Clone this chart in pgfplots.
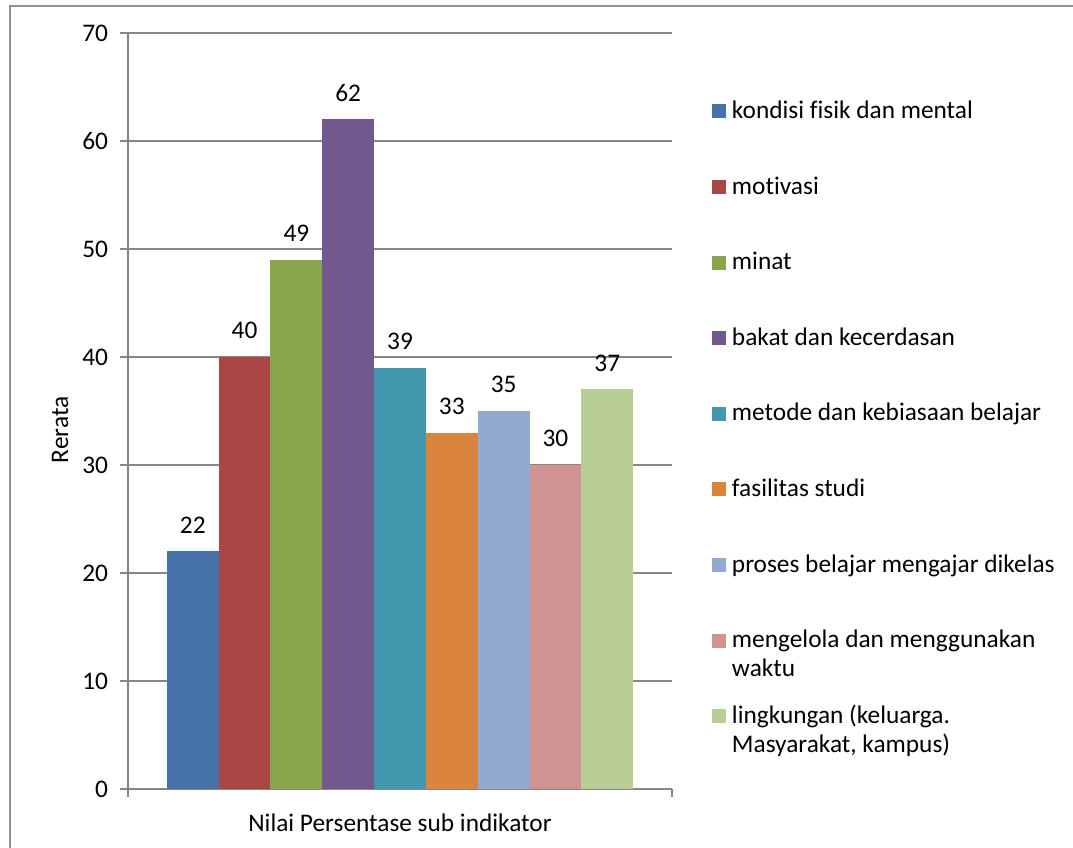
\documentclass[border=0pt]{standalone}
\usepackage{pgfplots}
\pgfplotsset{compat=1.18}
\usepackage{fontspec}
\setmainfont[Ligatures=NoCommon]{Carlito}
\definecolor{c1}{HTML}{4572A7}
\definecolor{c2}{HTML}{AA4643}
\definecolor{c3}{HTML}{89A54E}
\definecolor{c4}{HTML}{71588F}
\definecolor{c5}{HTML}{4198AF}
\definecolor{c6}{HTML}{DB843D}
\definecolor{c7}{HTML}{93A9CF}
\definecolor{c8}{HTML}{D19392}
\definecolor{c9}{HTML}{B9CD96}
\definecolor{axgray}{HTML}{868686}
\pgfplotsset{
  /pgf/number format/assume math mode=true,
  mybar/.style={ybar, bar width=1, bar shift=0pt, draw=none, fill=#1,
    legend image code/.code={\fill[##1] (0pt,0pt) rectangle (10.5pt,10.5pt);}},
}
\newcommand{\myfont}{\fontsize{19}{21.75}\selectfont}
\begin{document}
\myfont
\begin{tikzpicture}[x=0.75pt,y=0.75pt]
\path[use as bounding box] (0,0) rectangle (1073,848);
\draw[color=axgray!90, line width=1pt] (10,-5) -- (10,842) -- (1080,842);
\begin{axis}[
  at={(96pt,44.25pt)}, anchor=south west,
  scale only axis, width=408pt, height=567pt,
  xmin=-0.25, xmax=10.25, ymin=0, ymax=70,
  ytick={0,10,...,70},
  xtick={-0.25,10.25}, xticklabels={},
  axis lines*=left,
  clip=false,
  ymajorgrids, grid style={axgray, line width=0.9pt},
  axis line style={axgray, line width=1pt},
  major tick style={axgray, line width=1pt}, major tick length=6pt, tick align=outside,
  every tick label/.append style={font=\myfont, text=black},
  yticklabel style={xshift=-2.5pt},
  ylabel={Rerata}, ylabel style={at={(axis description cs:-0.125,0.475)}, anchor=center, font=\myfont},
  xlabel={Nilai Persentase sub indikator}, xlabel style={at={(axis description cs:0.5,-0.045)}, anchor=center, font=\myfont},
  nodes near coords,
  nodes near coords style={anchor=base, yshift=13.5pt, font=\myfont, text=black},
  legend cell align=left,
  legend style={at={(axis description cs:1.0735,0.912)}, anchor=north west, draw=none, fill=none,
    inner sep=0pt, outer sep=0pt, row sep=42.5pt, column sep=4.5pt,
    cells={anchor=base west},
    nodes={inner sep=0pt, text height=14.2pt, text depth=0pt, font=\myfont}},
]
\addplot[mybar=c1] coordinates {(1,22)};
\addlegendentry{kondisi fisik dan mental}
\addplot[mybar=c2] coordinates {(2,40)};
\addlegendentry{motivasi}
\addplot[mybar=c3] coordinates {(3,49)};
\addlegendentry{minat}
\addplot[mybar=c4] coordinates {(4,62)};
\addlegendentry{bakat dan kecerdasan}
\addplot[mybar=c5] coordinates {(5,39)};
\addlegendentry{metode dan kebiasaan belajar}
\addplot[mybar=c6] coordinates {(6,33)};
\addlegendentry{fasilitas studi}
\addplot[mybar=c7] coordinates {(7,35)};
\addlegendentry{proses belajar mengajar dikelas}
\addplot[mybar=c8] coordinates {(8,30)};
\addlegendentry{\parbox[t]{250pt}{mengelola dan menggunakan\\waktu}}
\addplot[mybar=c9] coordinates {(9,37)};
\addlegendentry{\parbox[t]{250pt}{lingkungan (keluarga.\\Masyarakat, kampus)}}
\end{axis}
\end{tikzpicture}
\end{document}
